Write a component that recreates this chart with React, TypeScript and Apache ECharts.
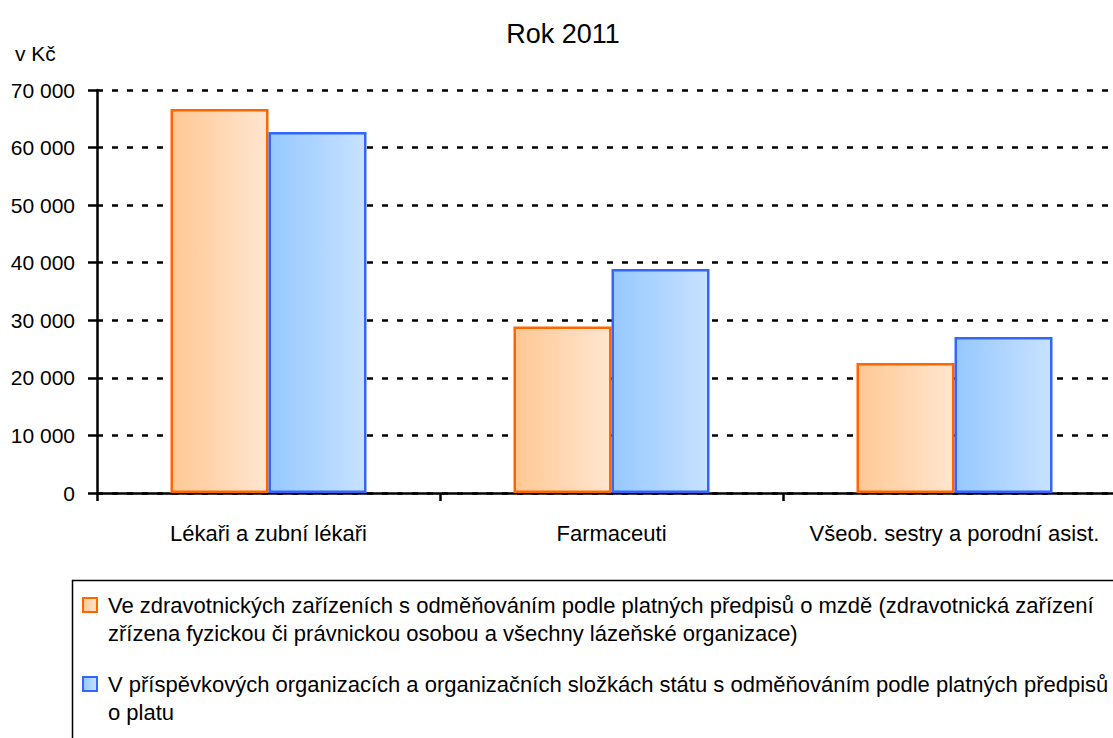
import React, { useEffect, useRef } from "react";
import * as echarts from "echarts";

const categories = ["Lékaři a zubní lékaři", "Farmaceuti", "Všeob. sestry a porodní asist."];
const mzdaValues = [66700, 28900, 22600];
const platValues = [62700, 38900, 27100];
const yTicks = { min: 0, max: 70000, interval: 10000 };
const legendLinesMzda = [
  "Ve zdravotnických zařízeních s odměňováním podle platných předpisů o mzdě (zdravotnická zařízení",
  "zřízena fyzickou či právnickou osobou a všechny lázeňské organizace)",
];
const legendLinesPlat = [
  "V příspěvkových organizacích a organizačních složkách státu s odměňováním podle platných předpisů",
  "o platu",
];

const FONT = "'Liberation Sans', Arial, sans-serif";

const orangeFill = new echarts.graphic.LinearGradient(0, 0, 1, 0, [
  { offset: 0, color: "#FFC894" },
  { offset: 1, color: "#FFE6D0" },
]);
const blueFill = new echarts.graphic.LinearGradient(0, 0, 1, 0, [
  { offset: 0, color: "#96C8FF" },
  { offset: 1, color: "#C8E2FF" },
]);

export default function App() {
  const ref = useRef<HTMLDivElement>(null);
  useEffect(() => {
    if (!ref.current) return;
    const chart = echarts.init(ref.current, undefined, { renderer: "svg" });
    const fmt = (v: number) => String(v).replace(/\B(?=(\d{3})+(?!\d))/g, " ");
    const legendItem = (lines: string[], top: number, fill: any, stroke: string) => ({
      type: "group",
      children: [
        {
          type: "rect",
          shape: { x: 83, y: top - 7, width: 14, height: 14 },
          style: { fill, stroke, lineWidth: 2 },
        },
        ...lines.map((t, i) => ({
          type: "text",
          x: 108,
          y: top + i * 28,
          style: { text: t, fill: "#000", fontFamily: FONT, fontSize: 22, verticalAlign: "middle" },
        })),
      ],
    });
    chart.setOption({
      animation: false,
      backgroundColor: "#fff",
      title: [
        { text: "Rok 2011", left: 558, textAlign: "center", top: 15, textStyle: { fontFamily: FONT, fontSize: 27, fontWeight: "normal", color: "#000" } },
        { text: "v Kč", left: 10, top: 38, textStyle: { fontFamily: FONT, fontSize: 21, fontWeight: "normal", color: "#000" } },
      ],
      grid: { left: 97, top: 90, height: 403, width: 1029, containLabel: false },
      xAxis: {
        type: "category",
        data: categories,
        axisLine: { lineStyle: { color: "#000", width: 2.5 } },
        axisTick: { show: true, length: 8, lineStyle: { color: "#000", width: 2.5 } },
        axisLabel: { interval: 0, margin: 29, fontFamily: FONT, fontSize: 22, color: "#000" },
      },
      yAxis: {
        type: "value",
        min: yTicks.min,
        max: yTicks.max,
        interval: yTicks.interval,
        axisLine: { show: true, lineStyle: { color: "#000", width: 2.5 } },
        axisTick: { show: true, length: 9, lineStyle: { color: "#000", width: 2.5 } },
        axisLabel: { margin: 22, fontFamily: FONT, fontSize: 21, color: "#000", formatter: fmt },
        splitLine: { show: true, lineStyle: { color: "#000", width: 2.5, type: [6, 9] } },
      },
      series: [
        {
          type: "bar",
          name: legendLinesMzda.join(" "),
          data: mzdaValues,
          barWidth: 98,
          barGap: "0%",
          itemStyle: { color: orangeFill, borderColor: "#FF6600", borderWidth: 2.5 },
        },
        {
          type: "bar",
          name: legendLinesPlat.join(" "),
          data: platValues,
          barWidth: 98,
          barGap: "0%",
          itemStyle: { color: blueFill, borderColor: "#3366FF", borderWidth: 2.5 },
        },
      ],
      graphic: [
        {
          type: "rect",
          shape: { x: 72.5, y: 580.5, width: 1100, height: 220 },
          style: { fill: "none", stroke: "#000", lineWidth: 1.5 },
        },
        legendItem(legendLinesMzda, 605, orangeFill, "#FF6600"),
        legendItem(legendLinesPlat, 684, blueFill, "#3366FF"),
      ],
    });
    return () => chart.dispose();
  }, []);
  return (
    <div style={{ position: "fixed", left: 0, top: 0, width: 1113, height: 738, overflow: "hidden" }}>
      <div ref={ref} style={{ width: 1140, height: 738 }} />
    </div>
  );
}
